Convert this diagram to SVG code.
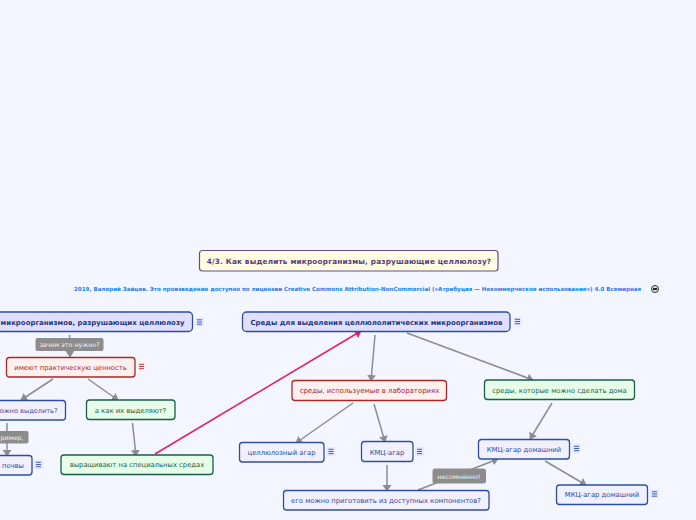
<svg xmlns="http://www.w3.org/2000/svg" width="696" height="520" viewBox="0 0 696 520">
<style>
text{font-family:"DejaVu Sans",Verdana,sans-serif;font-size:6.8px;text-anchor:middle}
.n{stroke-width:1.3}
.b .n{fill:#f0f0ff;stroke:#2f4da0}.b text{fill:#2f4da0}
.m .n{fill:#dfe0ff;stroke:#2f4da0}.m text{fill:#24367f;font-weight:bold;font-size:6.98px}
.r .n{fill:#fff0f0;stroke:#a82828}.r text{fill:#a82828}
.g .n{fill:#e6ffe9;stroke:#1c5c48}.g text{fill:#1c5c48}
.l rect{fill:#8c8c8c}.l text{fill:#f2f2f2;font-size:6.4px}
.c line{stroke:#8c8c94;stroke-width:1.5}
.i{stroke:#2f4da0;stroke-width:.9;fill:none}.i rect{fill:#e6e8ff;stroke:none}
.ir{stroke:#a82828;stroke-width:.9;fill:none}.ir rect{fill:#ffeeee;stroke:none}
</style>
<defs>
<marker id="a" markerUnits="userSpaceOnUse" markerWidth="10" markerHeight="10" refX="6" refY="4.500" orient="auto"><path d="M0 0L6.500 4.500L0 9Z" fill="#8c8c94"/></marker>
<marker id="p" markerUnits="userSpaceOnUse" markerWidth="10" markerHeight="10" refX="6" refY="4.500" orient="auto"><path d="M0 0L6.500 4.500L0 9Z" fill="#e8196a"/></marker>
<path id="bars" d="M-2.500-2.200H2.500M-2.500 0H2.500M-2.500 2.200H2.500"/>
</defs>
<rect width="696" height="520" fill="#f4f6ff"/>
<g id="connectors" class="c" fill="none">
<line x1="69.500" y1="335" x2="70" y2="357" marker-end="url(#a)"/>
<line x1="53" y1="379" x2="21" y2="400" marker-end="url(#a)"/>
<line x1="88" y1="379" x2="118" y2="400" marker-end="url(#a)"/>
<line x1="7" y1="423" x2="7" y2="456" marker-end="url(#a)"/>
<line x1="132.500" y1="423" x2="136" y2="456" marker-end="url(#a)"/>
<line x1="155" y1="454" x2="361" y2="331" style="stroke:#e8196a" marker-end="url(#p)"/>
<line x1="375" y1="335" x2="371" y2="381" marker-end="url(#a)"/>
<line x1="407" y1="333" x2="533" y2="380" marker-end="url(#a)"/>
<line x1="353" y1="403" x2="296" y2="443" marker-end="url(#a)"/>
<line x1="374" y1="404" x2="385" y2="442" marker-end="url(#a)"/>
<line x1="552" y1="403" x2="530" y2="439" marker-end="url(#a)"/>
<line x1="387" y1="465" x2="387" y2="491" marker-end="url(#a)"/>
<line x1="418" y1="490" x2="498" y2="459" marker-end="url(#a)"/>
<line x1="545" y1="461" x2="586" y2="485" marker-end="url(#a)"/>
</g>
<g id="title"><rect x="199.500" y="250.500" width="298.500" height="20.500" rx="3" fill="#fffde2" stroke="#6b4a8c" stroke-width="1.200"/><text x="349" y="263.500" style="font-weight:bold;font-size:7.3px;letter-spacing:.18px;fill:#5c3a7a">4/3. Как выделить микроорганизмы, разрушающие целлюлозу?</text></g>
<g id="credit"><text x="357.500" y="291" textLength="567" lengthAdjust="spacingAndGlyphs" style="font-weight:bold;font-size:5.6px;fill:#1a80e8">2019, Валерий Зайцев. Это произведение доступно по лицензии Creative Commons Attribution-NonCommercial («Атрибуция — Некоммерческое использование») 4.0 Всемирная</text>
<circle cx="655" cy="289" r="3.500" fill="#ddd" stroke="#333" stroke-width="1"/><rect x="653" y="288" width="4" height="2" fill="#222"/></g>
<g id="n1" class="m"><rect class="n" x="-20" y="312" width="212.500" height="19.500" rx="4"/><text x="184.500" y="325" style="text-anchor:end">микроорганизмов, разрушающих целлюлозу</text><g class="i" transform="translate(199.500 322)"><rect x="-4.500" y="-4.500" width="9" height="9" rx="1"/><use href="#bars"/></g></g>
<g id="n2" class="m"><rect class="n" x="242.500" y="312" width="267.500" height="19.500" rx="4"/><text x="376.500" y="324.500">Среды для выделения целлюлолитических микроорганизмов</text><g class="i" transform="translate(517.500 321.500)"><rect x="-4.500" y="-4.500" width="9" height="9" rx="1"/><use href="#bars"/></g></g>
<g id="l1" class="l"><rect x="35.500" y="338" width="68" height="13" rx="2"/><text x="69.500" y="347">зачем это нужно?</text></g>
<g id="n3" class="r"><rect class="n" x="6.500" y="357.500" width="128.500" height="19.500" rx="3"/><text x="70.500" y="370">имеют практическую ценность</text><g class="ir" transform="translate(141.500 366.500)"><rect x="-4.500" y="-4.500" width="9" height="9" rx="1"/><use href="#bars"/></g></g>
<g id="n4" class="b"><rect class="n" x="-20" y="400.500" width="85.500" height="19.500" rx="3"/><text x="57.500" y="413" style="text-anchor:end;font-size:6.6px">ожно выделить?</text></g>
<g id="n5" class="g"><rect class="n" x="86.500" y="400" width="88.500" height="19.500" rx="3"/><text x="130.500" y="412.500">а как их выделяют?</text></g>
<g id="l2" class="l"><rect x="-10" y="431" width="38.500" height="12.500" rx="2"/><text x="23.500" y="440" style="text-anchor:end">ример,</text></g>
<g id="n6" class="b"><rect class="n" x="-20" y="455.500" width="52" height="19.500" rx="3"/><text x="24" y="468" style="text-anchor:end">почвы</text><g class="i" transform="translate(38.500 464.500)"><rect x="-4.500" y="-4.500" width="9" height="9" rx="1"/><use href="#bars"/></g></g>
<g id="n7" class="g"><rect class="n" x="61" y="455" width="152" height="19.500" rx="3"/><text x="137" y="467">выращивают на специальных средах</text></g>
<g id="n8" class="r"><rect class="n" x="292" y="380.500" width="154.500" height="20" rx="3"/><text x="369.500" y="393" style="font-size:6.95px">среды, используемые в лабораториях</text></g>
<g id="n9" class="g"><rect class="n" x="484.500" y="380" width="150" height="19.500" rx="3"/><text x="559.500" y="392.500">среды, которые можно сделать дома</text></g>
<g id="n10" class="b"><rect class="n" x="239.500" y="442.500" width="84.500" height="19.500" rx="3"/><text x="281.500" y="455">целлюлозный агар</text><g class="i" transform="translate(331 451.500)"><rect x="-4.500" y="-4.500" width="9" height="9" rx="1"/><use href="#bars"/></g></g>
<g id="n11" class="b"><rect class="n" x="361.500" y="441.500" width="51.500" height="20" rx="3"/><text x="387" y="454.500">КМЦ-агар</text><g class="i" transform="translate(419.500 451.500)"><rect x="-4.500" y="-4.500" width="9" height="9" rx="1"/><use href="#bars"/></g></g>
<g id="n12" class="b"><rect class="n" x="478.500" y="439.500" width="91" height="19.500" rx="3"/><text x="524" y="451.500">КМЦ-агар домашний</text><g class="i" transform="translate(576.500 448.500)"><rect x="-4.500" y="-4.500" width="9" height="9" rx="1"/><use href="#bars"/></g></g>
<g id="n13" class="b"><rect class="n" x="556.500" y="485" width="91" height="19.500" rx="3"/><text x="602" y="497">МКЦ-агар домашний</text><g class="i" transform="translate(654.500 494)"><rect x="-4.500" y="-4.500" width="9" height="9" rx="1"/><use href="#bars"/></g></g>
<g id="n14" class="b"><rect class="n" x="283.500" y="490.500" width="205.500" height="19.500" rx="3"/><text x="386" y="503">его можно приготовить из доступных компонентов?</text></g>
<g id="l3" class="l"><rect x="432.500" y="468.500" width="53.500" height="15" rx="2.500"/><text x="459" y="478.500">несомненно!</text></g>
</svg>
